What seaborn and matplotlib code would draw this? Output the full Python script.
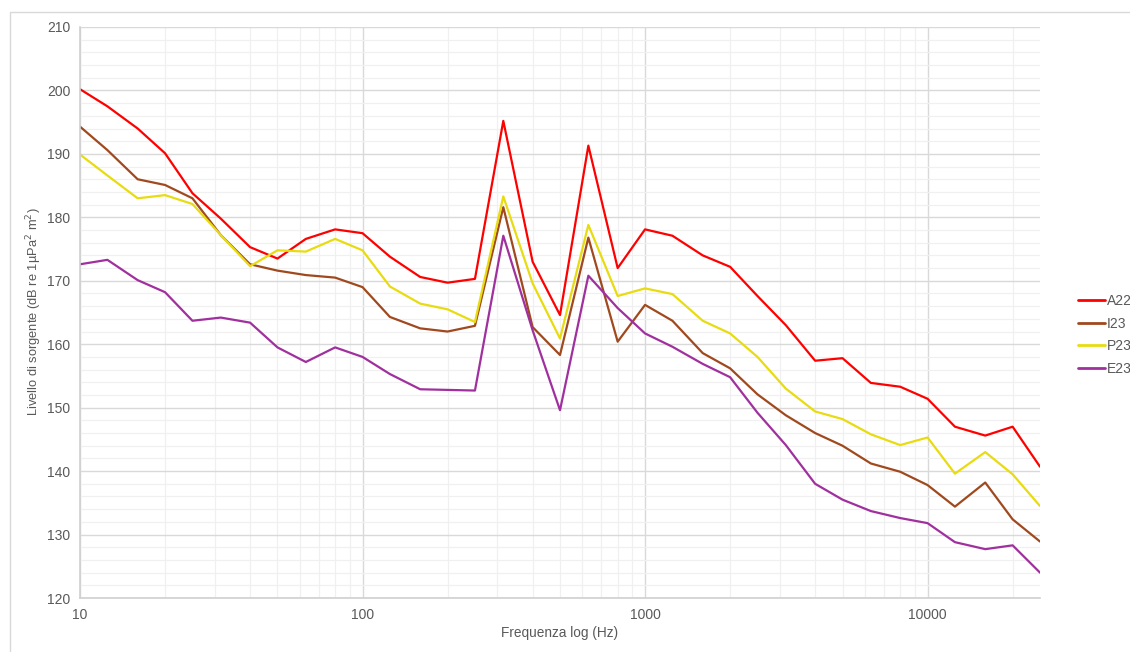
import numpy as np
import pandas as pd
import seaborn as sns
import matplotlib.pyplot as plt
from matplotlib.ticker import FixedLocator, NullFormatter, FixedFormatter
from matplotlib.patches import Rectangle

freq = [10, 12.5, 16, 20, 25, 31.5, 40, 50, 63, 80, 100, 125, 160, 200, 250, 315, 400, 500,
        630, 800, 1000, 1250, 1600, 2000, 2500, 3150, 4000, 5000, 6300, 8000, 10000, 12500,
        16000, 20000, 25000]
a22 = [200.2, 197.5, 194.0, 190.1, 183.8, 179.8, 175.3, 173.5, 176.6, 178.1, 177.5, 173.8,
       170.6, 169.7, 170.3, 195.2, 173.0, 164.6, 191.3, 172.0, 178.1, 177.1, 174.0, 172.2,
       167.6, 163.0, 157.4, 157.8, 153.9, 153.3, 151.4, 147.0, 145.6, 147.0, 140.7]
i23 = [194.3, 190.6, 186.0, 185.1, 183.0, 177.2, 172.6, 171.6, 170.9, 170.5, 169.0, 164.3,
       162.5, 162.0, 162.9, 181.6, 162.7, 158.3, 176.8, 160.4, 166.2, 163.7, 158.6, 156.2,
       152.1, 148.8, 146.0, 144.0, 141.2, 139.9, 137.8, 134.4, 138.2, 132.4, 128.9]
p23 = [189.9, 186.6, 183.0, 183.5, 182.1, 177.2, 172.3, 174.8, 174.6, 176.6, 174.8, 169.1,
       166.4, 165.5, 163.5, 183.3, 169.6, 160.9, 178.8, 167.6, 168.8, 167.9, 163.7, 161.7,
       158.0, 153.0, 149.4, 148.2, 145.8, 144.1, 145.3, 139.6, 143.0, 139.5, 134.5]
e23 = [172.6, 173.3, 170.1, 168.2, 163.7, 164.2, 163.4, 159.5, 157.2, 159.5, 158.0, 155.3,
       152.9, 152.8, 152.7, 177.1, 162.2, 149.6, 170.8, 165.7, 161.7, 159.6, 156.9, 154.8,
       149.2, 144.1, 138.0, 135.5, 133.7, 132.6, 131.8, 128.8, 127.7, 128.3, 124.0]
series_names = ["A22", "I23", "P23", "E23"]
colors = ["#ff0000", "#a0491e", "#e8dc10", "#a0309e"]
y_ticks = [120, 130, 140, 150, 160, 170, 180, 190, 200, 210]
x_ticks = [10, 100, 1000, 10000]
x_tick_labels = ["10", "100", "1000", "10000"]

df = pd.DataFrame({
    "freq": freq * 4,
    "level": a22 + i23 + p23 + e23,
    "serie": sum([[n] * len(freq) for n in series_names], []),
})

sns.set_theme(style="white")
plt.rcParams['font.family'] = ['Liberation Sans', 'DejaVu Sans']

fig = plt.figure(figsize=(11.3, 6.52), dpi=100)
ax = fig.add_axes([80 / 1130, 1 - 598 / 652, 960 / 1130, 571 / 652])

# figure frame
fig.patches.append(Rectangle((10 / 1130, -0.05), 1.2, 1 - 12 / 652 + 0.05,
                             transform=fig.transFigure, fill=False,
                             edgecolor="#d9d9d9", linewidth=1.0, zorder=0))

sns.lineplot(data=df, x="freq", y="level", hue="serie", palette=dict(zip(series_names, colors)),
             linewidth=1.6, ax=ax, legend=True, estimator=None, sort=False)

ax.set_xscale("log")
ax.set_xlim(10, 25000)
ax.set_ylim(120, 210)

ax.xaxis.set_major_locator(FixedLocator(x_ticks))
ax.xaxis.set_major_formatter(FixedFormatter(x_tick_labels))
minor_x = [m * 10 ** d for d in range(1, 5) for m in range(2, 10) if m * 10 ** d < 25000]
ax.xaxis.set_minor_locator(FixedLocator(minor_x))
ax.xaxis.set_minor_formatter(NullFormatter())
ax.yaxis.set_major_locator(FixedLocator(y_ticks))
ax.yaxis.set_minor_locator(FixedLocator(np.arange(120, 211, 2)))

ax.grid(which="major", color="#d9d9d9", linewidth=1.0)
ax.grid(which="minor", color="#f0f0f0", linewidth=0.9)
ax.set_axisbelow(True)

for s in ["top", "right"]:
    ax.spines[s].set_visible(False)
for s in ["left", "bottom"]:
    ax.spines[s].set_color("#d0d0d0")
    ax.spines[s].set_linewidth(1.2)

ax.tick_params(axis="both", which="major", labelsize=10, labelcolor="#595959", colors="#d0d0d0",
               length=4, width=1, pad=3)
ax.tick_params(axis="both", which="minor", length=0)
for lab in ax.get_xticklabels() + ax.get_yticklabels():
    lab.set_color("#595959")

ax.set_xlabel("Frequenza log (Hz)", fontsize=9.8, color="#595959")
ax.xaxis.set_label_coords((560 - 80) / 960, (598 - 626) / 571)
ax.set_ylabel("Livello di sorgente (dB re 1\u00b5Pa$^2$ m$^2$)", fontsize=9.3, color="#595959")
ax.yaxis.set_label_coords((44 - 80) / 960, (598 - 312) / 571)

handles, labels = ax.get_legend_handles_labels()
ax.get_legend().remove()
leg = fig.legend(handles, labels, title=None, loc="center left",
                 bbox_to_anchor=(1078 / 1130, 1 - 335 / 652), frameon=False, borderpad=0,
                 borderaxespad=0, fontsize=10, handlelength=1.95, handletextpad=0.15,
                 labelspacing=0.62)
for t in leg.get_texts():
    t.set_color("#595959")
for l in leg.get_lines():
    l.set_linewidth(2.0)

fig.savefig("out.png", dpi=100)
